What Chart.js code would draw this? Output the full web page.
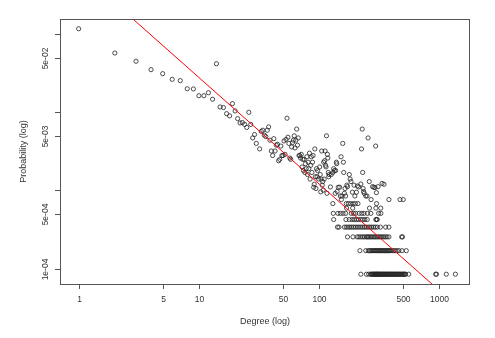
<!DOCTYPE html>
<html lang="en">
<head>
<meta charset="UTF-8">
<title>Degree distribution (log-log)</title>
<script src="https://cdn.jsdelivr.net/npm/chart.js@4"></script>
<style>
  html, body { margin: 0; padding: 0; background: #fff; }
  #chart { display: block; }
</style>
</head>
<body>
<canvas id="chart" width="495" height="338"></canvas>
<script>
// scattered part of the distribution (degree, probability)
const cloudDegree = [1, 2, 3, 4, 5, 6, 7, 8, 9, 10, 11, 12, 13, 14, 15, 16, 17, 18, 19, 20,
  21, 22, 23, 24, 25, 26, 27, 28, 29, 30, 32, 33, 34, 35, 36, 37, 38, 39, 40, 41,
  42, 43, 44, 45, 46, 47, 48, 49, 50, 51, 52, 53, 54, 55, 56, 57, 58, 59, 60, 61,
  62, 63, 64, 65, 66, 67, 68, 69, 70, 71, 72, 73, 74, 75, 76, 77, 78, 79, 80, 81,
  82, 83, 84, 85, 86, 87, 88, 89, 90, 91, 92, 93, 94, 95, 96, 97, 99, 101, 102, 103,
  104, 105, 106, 107, 108, 109, 110, 111, 112, 113, 114, 115, 116, 117, 118, 119, 120, 121, 124, 126,
  130, 132, 134, 136, 137, 139, 140, 141, 144, 148, 152, 157, 159, 160, 162, 164, 170, 172, 178, 181,
  184, 189, 195, 204, 208, 213, 222, 225, 228, 230, 232, 234, 237, 255, 261, 278, 285, 291, 295, 299,
  309, 333, 346];
const cloudProb = [0.117, 0.0573, 0.0449, 0.0351, 0.0312, 0.0264, 0.0254, 0.0200, 0.0199, 0.0163, 0.0163, 0.0178, 0.0147, 0.0418, 0.0117, 0.0115, 0.0096, 0.0090, 0.0129, 0.0104,
  0.0083, 0.0073, 0.0074, 0.0070, 0.0064, 0.0100, 0.0070, 0.0047, 0.0052, 0.0040, 0.0034, 0.0057, 0.0059, 0.0051, 0.0049, 0.0059, 0.0065, 0.0044, 0.0032, 0.0028,
  0.0046, 0.0032, 0.0038, 0.0039, 0.0024, 0.0025, 0.0037, 0.0028, 0.0028, 0.0043, 0.0029, 0.0045, 0.0084, 0.0048, 0.0040, 0.0026, 0.0025, 0.0036, 0.0041, 0.0044,
  0.0050, 0.0035, 0.0044, 0.0061, 0.0038, 0.0047, 0.0028, 0.0028, 0.0026, 0.0029, 0.0020, 0.0025, 0.0018, 0.0025, 0.0017, 0.0022, 0.0019, 0.0027, 0.0016, 0.0023,
  0.0019, 0.0030, 0.0014, 0.0021, 0.0027, 0.0017, 0.0023, 0.0028, 0.0011, 0.0012, 0.0034, 0.0015, 0.00106, 0.0019, 0.0015, 0.0018, 0.0014, 0.0020, 0.0016, 0.00096,
  0.0014, 0.0032, 0.00117, 0.0013, 0.00101, 0.0023, 0.0014, 0.0024, 0.0032, 0.0021, 0.0020, 0.0050, 0.00092, 0.0029, 0.0026, 0.0017, 0.0015, 0.0016, 0.00111, 0.0016,
  0.0017, 0.0019, 0.0018, 0.00092, 0.0018, 0.0023, 0.0022, 0.00097, 0.0011, 0.0011, 0.0027, 0.0040, 0.0023, 0.0017, 0.00092, 0.00106, 0.00117, 0.00112, 0.0016, 0.0014,
  0.0013, 0.00095, 0.00117, 0.00095, 0.00114, 0.00111, 0.00121, 0.0034, 0.0061, 0.0017, 0.00106, 0.00097, 0.00092, 0.0047, 0.0013, 0.00112, 0.00110, 0.00109, 0.0037, 0.00094,
  0.00112, 0.00123, 0.0012];

// low-count tail: each probability level and the degrees sitting on it
const tailLevels = [8.5e-5, 1.7e-4, 2.55e-4, 3.4e-4, 4.25e-4, 5.1e-4, 5.95e-4, 6.8e-4, 7.65e-4, 8.5e-4];
const tailDegrees = [
  [222, 247, 258, 267, 272, 276, 280, 283, 287, 290, 294, 298, 301, 305, 309, 312, 316, 320, 325, 330,
   334, 338, 343, 348, 352, 357, 362, 367, 372, 378, 383, 389, 395, 400, 406, 412, 418, 424, 430, 437,
   443, 450, 457, 464, 471, 478, 486, 494, 502, 509, 516, 523, 555, 930, 945, 1140, 1357],
  [218, 244, 256, 262, 268, 274, 280, 286, 292, 298, 304, 310, 316, 322, 328, 335, 342, 349, 356, 363,
   370, 378, 386, 394, 405, 418, 430, 445, 460, 489, 530],
  [172, 191, 207, 214, 222, 230, 238, 246, 252, 258, 265, 272, 280, 288, 296, 305, 314, 323, 333, 343,
   354, 366, 380, 485, 493],
  [142, 146, 162, 168, 174, 180, 186, 193, 200, 207, 214, 222, 230, 238, 246, 255, 264, 273, 283, 293,
   304, 323, 357, 380],
  [132, 167, 178, 188, 196, 204, 212, 221, 230, 240, 251, 296, 300, 304],
  [131, 143, 150, 158, 166, 185, 193, 201, 215, 226, 236, 252, 269, 312, 326],
  [169, 190, 262, 296, 325],
  [130, 168, 175, 183, 192, 200, 210, 300],
  [153, 270, 380, 470, 500],
  [150, 155, 166, 198, 244, 250]
];

// fitted power law  p = a * k^b
const fitA = 0.643;
const fitB = -1.363;
const fitRange = [0.5, 3000];

const xTicks = [1, 5, 10, 50, 100, 500, 1000];
const yTicks = [1e-4, 5e-4, 1e-3, 5e-3, 1e-2, 5e-2, 1e-1];
const yTickLabels = ['1e-04', '5e-04', '', '5e-03', '', '5e-02', ''];

const points = cloudDegree.map((k, i) => ({x: k, y: cloudProb[i]}));
tailLevels.forEach((p, i) => tailDegrees[i].forEach(k => points.push({x: k, y: p})));
const fitLine = fitRange.map(k => ({x: k, y: fitA * Math.pow(k, fitB)}));

const FONT = '"Liberation Sans", Arial, Helvetica, sans-serif';

// R-style frame, ticks and labels
const rAxes = {
  id: 'rAxes',
  afterDraw(chart) {
    const {ctx, chartArea: a, scales: {x, y}} = chart;
    ctx.save();
    ctx.strokeStyle = '#555';
    ctx.lineWidth = 1;
    ctx.strokeRect(a.left + 0.5, a.top + 0.5, a.right - a.left - 1, a.bottom - a.top);
    ctx.fillStyle = '#333';
    ctx.font = '8.5px ' + FONT;
    ctx.textAlign = 'center';
    ctx.textBaseline = 'middle';
    xTicks.forEach(v => {
      const px = Math.round(x.getPixelForValue(v)) + 0.5;
      ctx.beginPath();
      ctx.moveTo(px, a.bottom);
      ctx.lineTo(px, a.bottom + 5);
      ctx.stroke();
      ctx.fillText(String(v), px, a.bottom + 16);
    });
    yTicks.forEach((v, i) => {
      const py = Math.round(y.getPixelForValue(v)) + 0.5;
      ctx.beginPath();
      ctx.moveTo(a.left - 5, py);
      ctx.lineTo(a.left, py);
      ctx.stroke();
      if (yTickLabels[i]) {
        ctx.save();
        ctx.translate(a.left - 14.5, py);
        ctx.rotate(-Math.PI / 2);
        ctx.fillText(yTickLabels[i], 0, 0);
        ctx.restore();
      }
    });
    ctx.font = '9px ' + FONT;
    ctx.fillText('Degree (log)', (a.left + a.right) / 2, a.bottom + 37.5);
    ctx.save();
    ctx.translate(24, (a.top + a.bottom) / 2);
    ctx.rotate(-Math.PI / 2);
    ctx.fillText('Probability (log)', 0, 0);
    ctx.restore();
    ctx.restore();
  }
};

new Chart(document.getElementById('chart'), {
  type: 'scatter',
  data: {
    datasets: [
      {
        data: fitLine,
        showLine: true,
        borderColor: '#ff0000',
        borderWidth: 1,
        pointRadius: 0
      },
      {
        data: points,
        pointStyle: 'circle',
        pointRadius: 2.1,
        pointBorderWidth: 0.8,
        pointBorderColor: '#222',
        pointBackgroundColor: 'rgba(0,0,0,0)'
      }
    ]
  },
  options: {
    responsive: false,
    devicePixelRatio: 1,
    animation: false,
    layout: { padding: { top: 19, right: 25, left: 0, bottom: 0 } },
    plugins: { legend: { display: false }, tooltip: { enabled: false } },
    scales: {
      x: {
        type: 'logarithmic',
        min: 0.748,
        max: 1795,
        grid: { display: false },
        border: { display: false },
        ticks: { display: false },
        afterFit(scale) { scale.height = 54; }
      },
      y: {
        type: 'logarithmic',
        min: 6.37e-5,
        max: 0.156,
        grid: { display: false },
        border: { display: false },
        ticks: { display: false },
        afterFit(scale) { scale.width = 60; }
      }
    }
  },
  plugins: [rAxes]
});
</script>
</body>
</html>
